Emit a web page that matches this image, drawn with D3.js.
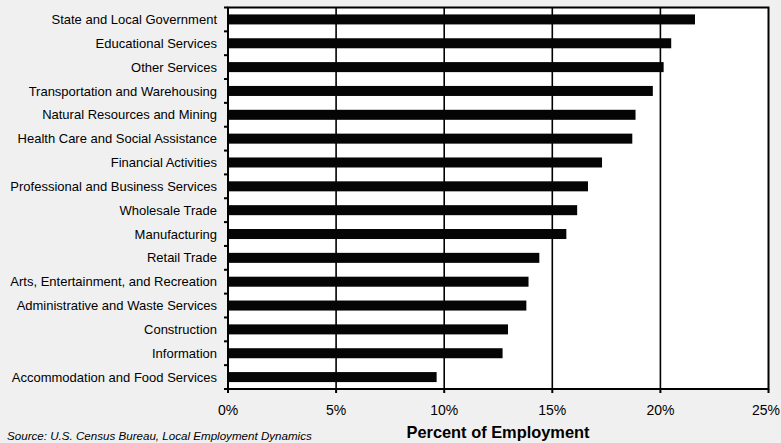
<!DOCTYPE html>
<html><head><meta charset="utf-8">
<script src="https://cdn.jsdelivr.net/npm/d3@7"></script>
<style>
html,body{margin:0;padding:0;background:#f0f0f0;}
svg{display:block;font-family:"Liberation Sans",Arial,sans-serif;}
</style></head>
<body><svg id="c" width="781" height="443"></svg>
<script>
const categories = [
  "State and Local Government","Educational Services","Other Services",
  "Transportation and Warehousing","Natural Resources and Mining",
  "Health Care and Social Assistance","Financial Activities",
  "Professional and Business Services","Wholesale Trade","Manufacturing",
  "Retail Trade","Arts, Entertainment, and Recreation",
  "Administrative and Waste Services","Construction","Information",
  "Accommodation and Food Services"
];
const values = [21.6,20.5,20.15,19.65,18.85,18.7,17.3,16.65,16.15,15.65,14.4,13.9,13.8,12.95,12.7,9.65];
const xTicks = [0,5,10,15,20,25];
const xTickLabels = ["0%","5%","10%","15%","20%","25%"];
const xTitle = "Percent of Employment";
const source = "Source: U.S. Census Bureau, Local Employment Dynamics";

const svg = d3.select("#c");
const L = 228, R = 768.5, T = 7.5, B = 389;
const x = d3.scaleLinear().domain([0,25]).range([L,R]);
const y = d3.scaleBand().domain(categories).range([T,B]).paddingInner(0.58).paddingOuter(0.29);
const band = d3.scaleBand().domain(categories).range([T,B]);

svg.append("rect").attr("x",L).attr("y",T).attr("width",R-L).attr("height",B-T).attr("fill","#fff");

// gridlines
svg.append("g").selectAll("line").data(xTicks.slice(1,-1)).join("line")
  .attr("x1",d=>x(d)).attr("x2",d=>x(d)).attr("y1",T).attr("y2",B)
  .attr("stroke","#000").attr("stroke-width",1.6);

// bars
svg.append("g").selectAll("rect").data(categories).join("rect")
  .attr("x",L).attr("y",d=>y(d)).attr("height",y.bandwidth())
  .attr("width",(d,i)=>x(values[i])-L).attr("fill","#050505");

// border
svg.append("rect").attr("x",L).attr("y",T).attr("width",R-L).attr("height",B-T)
  .attr("fill","none").attr("stroke","#000").attr("stroke-width",2);

// y axis ticks at band boundaries
const bounds = categories.map(c=>band(c)).concat([B]);
svg.append("g").selectAll("line").data(bounds).join("line")
  .attr("x1",L-4).attr("x2",L).attr("y1",d=>d).attr("y2",d=>d)
  .attr("stroke","#000").attr("stroke-width",2);

// y labels
svg.append("g").selectAll("text").data(categories).join("text")
  .attr("x",217).attr("y",d=>band(d)+band.bandwidth()/2).attr("dy","0.35em")
  .attr("text-anchor","end").attr("font-size",13).attr("fill","#000").text(d=>d);

// x axis ticks
svg.append("g").selectAll("line").data(xTicks).join("line")
  .attr("x1",d=>x(d)).attr("x2",d=>x(d)).attr("y1",B).attr("y2",B+4)
  .attr("stroke","#000").attr("stroke-width",2);
svg.append("g").selectAll("text").data(xTicks).join("text")
  .attr("x",d=>Math.min(x(d),766)).attr("y",415).attr("text-anchor","middle")
  .attr("font-size",14).attr("fill","#000").text((d,i)=>xTickLabels[i]);

svg.append("text").attr("x",498).attr("y",438).attr("text-anchor","middle")
  .attr("font-size",16.4).attr("font-weight","bold").text(xTitle);
svg.append("text").attr("x",7).attr("y",440).attr("font-size",11.6)
  .attr("font-style","italic").text(source);
</script></body></html>
